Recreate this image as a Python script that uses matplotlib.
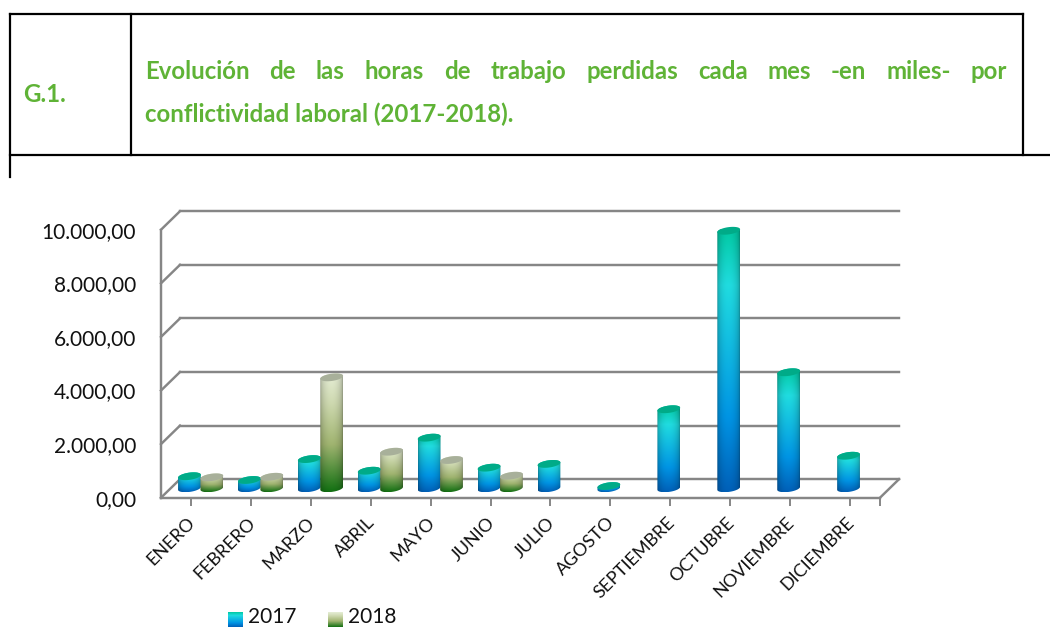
import numpy as np
import matplotlib
matplotlib.use("Agg")
import matplotlib.pyplot as plt
from matplotlib.patches import Polygon
from matplotlib.colors import to_rgb
from matplotlib.transforms import ScaledTranslation

months = ["ENERO","FEBRERO","MARZO","ABRIL","MAYO","JUNIO","JULIO","AGOSTO",
          "SEPTIEMBRE","OCTUBRE","NOVIEMBRE","DICIEMBRE"]
v2017 = [450,310,1090,656,1890,770,910,85,2950,9610,4330,1215]
v2018 = [410,430,4140,1365,1056,470,None,None,None,None,None,None]
yticks = [0,2000,4000,6000,8000,10000]
ylabels = ["0,00","2.000,00","4.000,00","6.000,00","8.000,00","10.000,00"]
series_names = ["2017","2018"]
title_line1 = "Evolución de las horas de trabajo perdidas cada mes -en miles- por"
title_line2 = "conflictividad laboral (2017-2018)."
gnum = "G.1."

W,H = 1050,627
GREEN = "#5fb336"
GRAY = "#868686"
FONT = "Lato"
TFONT = "Lato"

fig = plt.figure(figsize=(W/100,H/100),dpi=100,facecolor="white")

# overlay in pixel coordinates: table frame, title, legend
ov = fig.add_axes([0,0,1,1],zorder=0)
ov.set_xlim(0,W); ov.set_ylim(H,0); ov.axis("off")
for xs,ys in [((9.5,1022.5),(14,14)),((9.5,1050),(155,155)),((9.5,9.5),(14,177)),
              ((131,131),(14,155)),((1022.5,1022.5),(14,155))]:
    ov.plot(xs,ys,color="black",lw=1.6,solid_capstyle="projecting")

TS = 17.3
ov.text(23.5,102,gnum,color=GREEN,fontsize=TS,fontweight="bold",family=TFONT,va="baseline")
ov.text(145,122,title_line2,color=GREEN,fontsize=TS,fontweight="bold",family=TFONT,va="baseline")
words = title_line1.split(" ")
r = fig.canvas.get_renderer()
ts = [ov.text(0,79,w,color=GREEN,fontsize=TS,fontweight="bold",family=TFONT,va="baseline") for w in words]
ws = [t.get_window_extent(r).width for t in ts]
gap = (1007-145-sum(ws))/(len(ws)-1)
x = 145
for t,w in zip(ts,ws):
    t.set_x(x); x += w+gap

# main axes: the front plane of the 3-D box
L,R,Y0,Y1 = 161,880,497.7,229.7
ax = fig.add_axes([L/W,(H-Y0)/H,(R-L)/W,(Y0-Y1)/H],zorder=1)
ax.patch.set_alpha(0)
ax.set_xlim(0,12); ax.set_ylim(0,10000)
PXX = 12/(R-L); PXY = 10000/(Y0-Y1)
DX,DY = 19*PXX,18.5*PXY
LW = 1.75

for s in ("top","right"): ax.spines[s].set_visible(False)
for s in ("left","bottom"):
    ax.spines[s].set_color(GRAY); ax.spines[s].set_linewidth(LW)
for yt in yticks:
    ax.plot([0,DX],[yt,yt+DY],color=GRAY,lw=LW,clip_on=False,zorder=1)
    ax.plot([DX,12+DX],[yt+DY,yt+DY],color=GRAY,lw=LW,clip_on=False,zorder=1)
ax.plot([12,12+DX],[0,DY],color=GRAY,lw=LW,clip_on=False,zorder=1)

ax.set_yticks(yticks); ax.set_yticklabels(ylabels,fontsize=15,family=FONT,color="#111111")
ax.tick_params(axis="y",length=0,pad=18)
ax.set_xticks(np.arange(12)+0.5)
ax.set_xticklabels(months,rotation=45,ha="right",va="top",rotation_mode="anchor",
                   fontsize=13,family=FONT,color="#111111")
ax.tick_params(axis="x",length=6,width=1.4,color=GRAY,pad=6)
ax.set_xticks([12],minor=True)
ax.tick_params(axis="x",which="minor",length=6,width=1.4,color=GRAY)
shift = ScaledTranslation(-4/100,0,fig.dpi_scale_trans)
for lab in ax.get_xticklabels():
    lab.set_transform(lab.get_transform()+shift)

STOPS_A = [(0,"#00c8a0"),(.22,"#20dce0"),(.72,"#0094e4"),(1,"#0060b8")]
STOPS_B = [(0,"#e6eed6"),(.25,"#ced9b0"),(.6,"#a0b470"),(1,"#127012")]
TOP_A,TOP_B = "#00ab88","#a8b09a"

def grad(stops,n=128,m=32,lo=0.68):
    f = np.linspace(0,1,n)
    pos = [p for p,_ in stops]
    cols = np.array([to_rgb(c) for _,c in stops])
    rgb = np.stack([np.interp(f,pos,cols[:,k]) for k in range(3)],axis=1)
    u = np.linspace(0,1,m)
    sh = lo+(1-lo)*np.sin(np.pi*u)**0.45
    return rgb[:,None,:]*sh[None,:,None]

A,B,TILT = 11.5,3.6,np.deg2rad(8)
def ell(cx,cy,t):
    px = A*np.cos(t)*np.cos(TILT)-B*np.sin(t)*np.sin(TILT)
    py = A*np.cos(t)*np.sin(TILT)+B*np.sin(t)*np.cos(TILT)
    return cx+px*PXX, cy+py*PXY

BASE = 9.4*PXY
def cyl(xc,val,stops,topc):
    y0,y1 = BASE,BASE+val
    t1 = np.linspace(0,np.pi,40); t2 = np.linspace(np.pi,2*np.pi,40)
    bx,by = ell(xc,y0,t2); tx,ty = ell(xc,y1,t1)
    pts = np.column_stack([np.r_[bx,tx],np.r_[by,ty]])
    top = np.c_[ell(xc,y1,np.linspace(0,2*np.pi,80))]
    ext = (pts[:,0].min(),pts[:,0].max(),pts[:,1].min(),pts[:,1].max())
    im = ax.imshow(grad(stops),extent=ext,origin="upper",aspect="auto",zorder=3,interpolation="bilinear")
    clip = Polygon(pts,closed=True,transform=ax.transData)
    im.set_clip_on(True); im.set_clip_box(None); im.set_clip_path(clip)
    ax.add_patch(Polygon(top,closed=True,fc=topc,ec="none",zorder=3.1,clip_on=False))

W_BAR = 22.4*PXX
for i,(a,b) in enumerate(zip(v2017,v2018)):
    c = i+0.5-0.025
    cyl(c,a,STOPS_A,TOP_A)
    if b is not None:
        cyl(c+W_BAR,b,STOPS_B,TOP_B)
ax.set_xlim(0,12); ax.set_ylim(0,10000)

# legend
for sx,tx,name,st in [(228,248,series_names[0],STOPS_A),(328,348,series_names[1],STOPS_B)]:
    g = grad(st,m=2,lo=1.0)
    ov.imshow(g,extent=(sx,sx+14.5,627,612),aspect="auto",zorder=2)
    ov.text(tx,627,name,fontsize=15,family=FONT,color="#111111",va="bottom",clip_on=False)
ov.set_xlim(0,W); ov.set_ylim(H,0)

fig.savefig("out.png",dpi=100)
